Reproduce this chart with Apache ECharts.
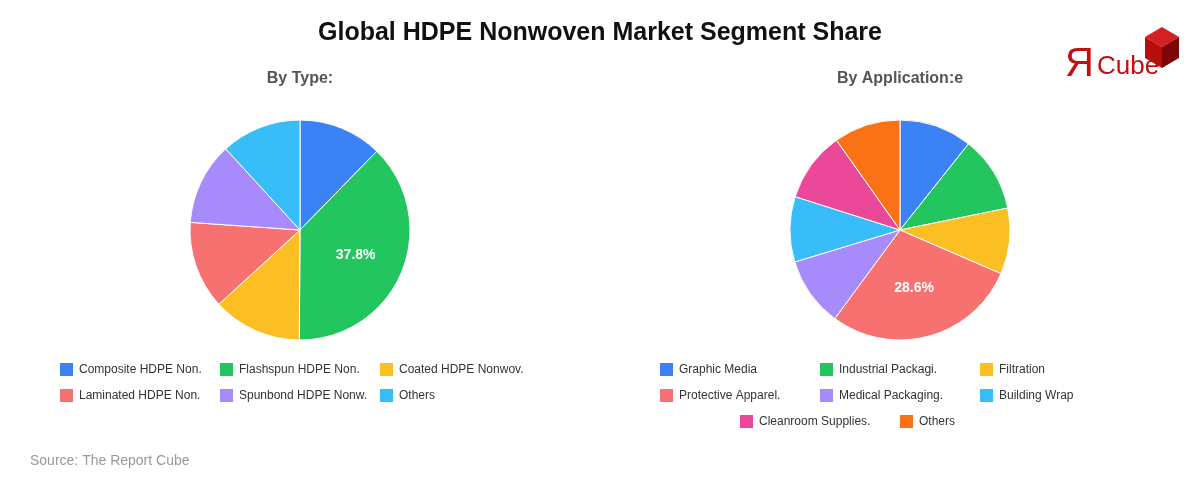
<!DOCTYPE html>
<html>
<head>
<meta charset="utf-8">
<script src="https://cdn.jsdelivr.net/npm/echarts@6/dist/echarts.min.js"></script>
<style>
  html, body { margin: 0; padding: 0; background: #fff; }
  #main { width: 1200px; height: 480px; }
</style>
</head>
<body>
<div id="main"></div>
<script>
// 数据：按类型
var typeNames = ['Composite HDPE Non.', 'Flashspun HDPE Non.', 'Coated HDPE Nonwov.', 'Laminated HDPE Non.', 'Spunbond HDPE Nonw.', 'Others'];
var typeValues = [12.3, 37.8, 13.1, 12.9, 12.1, 11.8];
// 数据：按应用
var appNames = ['Graphic Media', 'Industrial Packagi.', 'Filtration', 'Protective Apparel.', 'Medical Packaging.', 'Building Wrap', 'Cleanroom Supplies.', 'Others'];
var appValues = [10.7, 11.1, 9.7, 28.6, 10.2, 9.6, 10.3, 9.8];

var typeColors = ['#3b82f6', '#22c55e', '#fbbf24', '#f87171', '#a78bfa', '#38bdf8'];
var appColors = ['#3b82f6', '#22c55e', '#fbbf24', '#f87171', '#a78bfa', '#38bdf8', '#ec4899', '#f97316'];

var fontFam = "'Liberation Sans', Arial, sans-serif";

function toData(names, values, colors) {
    var data = [];
    for (var i = 0; i < names.length; i++) {
        data.push({ name: names[i], value: values[i], itemStyle: { color: colors[i] } });
    }
    return data;
}

// 只显示大块的百分比
function bigLabel(p) {
    return p.percent > 20 ? p.percent.toFixed(1) + '%' : '';
}

// 每个图例项单独放一个 legend，保证列对齐
function oneLegend(name, color, left, top) {
    return {
        left: left,
        top: top,
        padding: 0,
        icon: 'rect',
        itemWidth: 15,
        itemHeight: 15,
        itemGap: 0,
        selectedMode: false,
        data: [{ name: name, itemStyle: { color: color } }],
        textStyle: { color: '#333', fontSize: 12, fontFamily: fontFam }
    };
}

var legends = [];
for (var i = 0; i < typeNames.length; i++) {
    legends.push(oneLegend(typeNames[i], typeColors[i], 58 + (i % 3) * 160, 361 + Math.floor(i / 3) * 26));
}
for (var j = 0; j < 6; j++) {
    legends.push(oneLegend(appNames[j], appColors[j], 658 + (j % 3) * 160, 361 + Math.floor(j / 3) * 26));
}
legends.push(oneLegend(appNames[6], appColors[6], 738, 413));
legends.push(oneLegend(appNames[7], appColors[7], 898, 413));

var myChart = echarts.init(document.getElementById('main'));

var option = {
    backgroundColor: '#fff',
    animation: false,
    title: [
        {
            text: 'Global HDPE Nonwoven Market Segment Share',
            left: 'center',
            top: 21,
            padding: 0,
            textStyle: { color: '#111', fontSize: 25, fontWeight: 'bold', fontFamily: fontFam }
        },
        {
            text: 'By Type:',
            left: 300,
            top: 71,
            padding: 0,
            textAlign: 'center',
            textStyle: { color: '#555', fontSize: 16, fontWeight: 'bold', fontFamily: fontFam }
        },
        {
            text: 'By Application:e',
            left: 900,
            top: 71,
            padding: 0,
            textAlign: 'center',
            textStyle: { color: '#555', fontSize: 16, fontWeight: 'bold', fontFamily: fontFam }
        },
        {
            text: 'Source: The Report Cube',
            left: 30,
            top: 454,
            padding: 0,
            textStyle: { color: '#999', fontSize: 14, fontWeight: 'normal', fontFamily: fontFam }
        }
    ],
    legend: legends,
    graphic: [
        // logo
        { type: 'text', left: 1065, top: 45, style: { text: 'Я', font: '40px ' + fontFam, fill: '#c40f0f' } },
        { type: 'text', left: 1097, top: 54, style: { text: 'Cube', font: '26px ' + fontFam, fill: '#c40f0f' } },
        { type: 'polygon', shape: { points: [[1162, 27], [1179, 37], [1162, 47], [1145, 37]] }, style: { fill: '#d42020' } },
        { type: 'polygon', shape: { points: [[1145, 37], [1162, 47], [1162, 68], [1145, 58]] }, style: { fill: '#b80d0d' } },
        { type: 'polygon', shape: { points: [[1162, 47], [1179, 37], [1179, 58], [1162, 68]] }, style: { fill: '#7e0606' } }
    ],
    series: [
        {
            type: 'pie',
            name: 'By Type',
            center: [300, 230],
            radius: 110,
            startAngle: 90,
            data: toData(typeNames, typeValues, typeColors),
            itemStyle: { borderColor: '#fff', borderWidth: 1 },
            label: {
                show: true,
                position: 'inside',
                formatter: bigLabel,
                color: '#fff',
                fontSize: 14,
                fontWeight: 'bold',
                fontFamily: fontFam,
                offset: [2, 3]
            },
            labelLine: { show: false },
            emphasis: { disabled: true }
        },
        {
            type: 'pie',
            name: 'By Application',
            center: [900, 230],
            radius: 110,
            startAngle: 90,
            data: toData(appNames, appValues, appColors),
            itemStyle: { borderColor: '#fff', borderWidth: 1 },
            label: {
                show: true,
                position: 'inside',
                formatter: bigLabel,
                color: '#fff',
                fontSize: 14,
                fontWeight: 'bold',
                fontFamily: fontFam,
                offset: [-1, 2]
            },
            labelLine: { show: false },
            emphasis: { disabled: true }
        }
    ]
};

myChart.setOption(option);
</script>
</body>
</html>
